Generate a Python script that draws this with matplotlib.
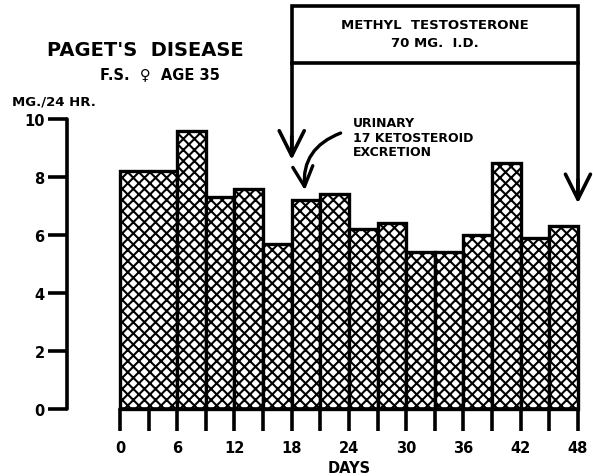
import matplotlib
matplotlib.use("Agg")
from matplotlib import pyplot as plt

# 17-ketosteroid excretion, mg/24 hr, per collection period
day_start = [0, 6, 9, 12, 15, 18, 21, 24, 27, 30, 33, 36, 39, 42, 45]
period_len = [6, 3, 3, 3, 3, 3, 3, 3, 3, 3, 3, 3, 3, 3, 3]
excretion = [8.2, 9.6, 7.3, 7.6, 5.7, 7.2, 7.4, 6.2, 6.4, 5.4, 5.4, 6.0, 8.5, 5.9, 6.3]

day_ticks = list(range(0, 49, 6))
day_minor = list(range(3, 48, 6))
mg_ticks = [0, 2, 4, 6, 8, 10]

treat_start, treat_end = 18, 48

plt.rcParams['font.family'] = 'DejaVu Sans'
plt.rcParams['font.weight'] = 'bold'
plt.rcParams['hatch.linewidth'] = 1.5

fig = plt.figure(figsize=(5.93, 4.77), dpi=100)
ax = fig.add_axes([0, 0, 1, 1])
ax.patch.set_alpha(0)
ax.set_xlim(-12.58, 49.58)
ax.set_ylim(-2.31, 14.14)

ax.bar(day_start, excretion, width=period_len, align='edge',
       color='white', edgecolor='black', linewidth=2.4, hatch='xxx')

# axes drawn like the hand-lettered original
for s in ['top', 'right']:
    ax.spines[s].set_visible(False)
ax.spines['left'].set_position(('data', -5.56))
ax.spines['left'].set_bounds(0, 10)
ax.spines['bottom'].set_position(('data', 0))
ax.spines['bottom'].set_bounds(0, 48)
for s in ['left', 'bottom']:
    ax.spines[s].set_linewidth(2.6)
    ax.spines[s].set_capstyle('round')

ax.set_xticks(day_ticks)
ax.set_xticks(day_minor, minor=True)
ax.set_yticks(mg_ticks)
ax.set_yticklabels([str(v) for v in mg_ticks])
ax.tick_params(axis='x', which='both', direction='out', length=16, width=2.6,
               pad=6, labelsize=10.5)
ax.tick_params(axis='y', direction='out', length=14, width=2.6, pad=2,
               labelsize=10.5)

ax.text(24, -2.0, 'DAYS', ha='center', va='center', fontsize=10.5)

# treatment bracket
ax.plot([treat_start, treat_start, treat_end, treat_end],
        [8.9, 13.9, 13.9, 7.4], color='black', lw=2.6, solid_joinstyle='miter')
ax.plot([treat_start, treat_end], [11.95, 11.95], color='black', lw=2.6)
for x, y0, y1 in [(treat_start, 9.5, 8.5), (treat_end, 8.0, 7.0)]:
    ax.annotate('', xy=(x, y1), xytext=(x, y0),
                arrowprops=dict(arrowstyle='->,head_length=0.9,head_width=0.45',
                                lw=2.6, color='black', mutation_scale=20))
ax.text(33, 12.95, 'METHYL  TESTOSTERONE\n70 MG.  I.D.', ha='center',
        va='center', fontsize=9.5, linespacing=1.45)

# bar label
ax.text(24.4, 10.1, 'URINARY\n17 KETOSTEROID\nEXCRETION', ha='left', va='top',
        fontsize=9, linespacing=1.15)
ax.annotate('', xy=(19.4, 7.45), xytext=(23.4, 9.55),
            arrowprops=dict(arrowstyle='->,head_length=0.8,head_width=0.4',
                            lw=2.4, color='black', mutation_scale=18,
                            connectionstyle='arc3,rad=0.4'))

fig.text(145 / 593, 1 - 50 / 477, "PAGET'S  DISEASE", ha='center', va='center',
         fontsize=14)
fig.text(160 / 593, 1 - 75 / 477, 'F.S.  \u2640  AGE 35', ha='center',
         va='center', fontsize=10.5)
fig.text(12 / 593, 1 - 102 / 477, 'MG./24 HR.', ha='left', va='center',
         fontsize=9.5)

fig.savefig('out.png', dpi=100)
